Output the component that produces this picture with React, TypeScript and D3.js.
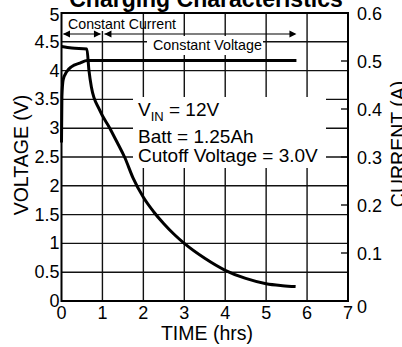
import React from "react";
import * as d3 from "d3";

const W = 402;
const H = 347;

// Data
const timeTicks = [0, 1, 2, 3, 4, 5, 6, 7];
const voltTicks = [0, 0.5, 1, 1.5, 2, 2.5, 3, 3.5, 4, 4.5, 5];
const currTicks = [0, 0.1, 0.2, 0.3, 0.4, 0.5, 0.6];

const voltageTime = [0, 0.01, 0.04, 0.126, 0.25, 0.45, 0.63, 5.74];
const voltageVals = [2.75, 3.55, 3.84, 3.98, 4.07, 4.13, 4.175, 4.175];

const currentTime = [0, 0.25, 0.62, 0.67, 0.73, 0.93, 1.18, 1.38, 1.54, 1.75, 2.0, 2.25, 2.5, 2.75, 3.0, 3.5, 4.0, 4.5, 5.0, 5.4, 5.72];
const currentVals = [0.530, 0.527, 0.525, 0.481, 0.446, 0.398, 0.36, 0.327, 0.30, 0.256, 0.216, 0.186, 0.161, 0.139, 0.120, 0.089, 0.064, 0.047, 0.036, 0.032, 0.030];

const title = "Charging Characteristics";
const xTitle = "TIME (hrs)";
const yLeftTitle = "VOLTAGE (V)";
const yRightTitle = "CURRENT (A)";
const noteLines = ["Batt = 1.25Ah", "Cutoff Voltage = 3.0V"];

const FONT = "Arial, 'Liberation Sans', Helvetica, sans-serif";

export default function App() {
  const x = d3.scaleLinear().domain([0, 7]).range([61.5, 348]);
  const yV = d3.scaleLinear().domain([0, 5]).range([301, 13]);
  const yA = d3.scaleLinear().domain([0, 0.6]).range([301, 13]);

  const vData = voltageTime.map((t, i) => [t, voltageVals[i]] as [number, number]);
  const aData = currentTime.map((t, i) => [t, currentVals[i]] as [number, number]);

  const vLine = d3
    .line<[number, number]>()
    .x((d) => x(d[0]))
    .y((d) => yV(d[1]))
    .curve(d3.curveMonotoneX);
  const aLine = d3
    .line<[number, number]>()
    .x((d) => x(d[0]))
    .y((d) => yA(d[1]))
    .curve(d3.curveMonotoneX);

  const gridColor = "#111";
  const fmt = (v: number) => (v === 0 ? "0" : d3.format("~g")(v));

  const arrowY = 34;
  const head = (px: number, dir: number) =>
    `M${px},${arrowY} L${px - dir * 7},${arrowY - 3.5} L${px - dir * 7},${arrowY + 3.5} Z`;

  return (
    <svg
      width={W}
      height={H}
      style={{ position: "absolute", left: 0, top: 0, background: "#fff" }}
      fontFamily={FONT}
    >
      <rect x={0} y={0} width={W} height={H} fill="#fff" />
      {/* grid */}
      {voltTicks
        .filter((v) => v > 0 && v < 5)
        .map((v) => (
          <line key={"h" + v} x1={x(0)} x2={x(7)} y1={yV(v)} y2={yV(v)} stroke={gridColor} strokeWidth={1.4} />
        ))}
      {timeTicks
        .filter((t) => t > 0 && t < 7)
        .map((t) => (
          <line key={"v" + t} x1={x(t)} x2={x(t)} y1={yV(5)} y2={yV(0)} stroke={gridColor} strokeWidth={1.4} />
        ))}
      {/* right inward ticks */}
      {currTicks
        .filter((v) => v > 0 && v < 0.6)
        .map((v) => (
          <line key={"rt" + v} x1={x(7) - 7} x2={x(7)} y1={yA(v)} y2={yA(v)} stroke={gridColor} strokeWidth={1.4} />
        ))}
      {/* white label backgrounds */}
      <rect x={63} y={14} width={65} height={17} fill="#fff" />
      <rect x={147} y={36} width={116} height={19} fill="#fff" />
      <rect x={133} y={97} width={193} height={71} fill="#fff" />
      {/* frame */}
      <rect x={x(0)} y={yV(5)} width={x(7) - x(0)} height={yV(0) - yV(5)} fill="none" stroke="#000" strokeWidth={2} />

      {/* arrows */}
      <line x1={x(0) + 2} x2={x(1) - 2} y1={arrowY} y2={arrowY} stroke="#000" strokeWidth={1.2} />
      <path d={head(x(0) + 1.5, -1)} fill="#000" />
      <path d={head(x(1) - 1.5, 1)} fill="#000" />
      <line x1={x(1) + 2} x2={x(5.7)} y1={arrowY} y2={arrowY} stroke="#000" strokeWidth={1.2} />
      <path d={head(x(1) + 2, -1)} fill="#000" />
      <path d={head(x(5.74), 1)} fill="#000" />

      {/* curves */}
      <path d={vLine(vData) || ""} fill="none" stroke="#000" strokeWidth={3} strokeLinejoin="round" strokeLinecap="butt" />
      <path d={aLine(aData) || ""} fill="none" stroke="#000" strokeWidth={3} strokeLinejoin="round" strokeLinecap="butt" />

      {/* annotations */}
      <text x={68} y={29} fontSize={14.2} fill="#000">Constant Current</text>
      <text x={153} y={50} fontSize={14.3} fill="#000">Constant Voltage</text>
      <text x={138} y={116} fontSize={19} fill="#000">
        V<tspan fontSize={13} dy={5}>IN</tspan>
        <tspan dy={-5}> = 12V</tspan>
      </text>
      <text x={138} y={143} fontSize={19} fill="#000">{noteLines[0]}</text>
      <text x={138} y={162} fontSize={19} fill="#000">{noteLines[1]}</text>

      {/* left tick labels */}
      {voltTicks.map((v) => (
        <text key={"lt" + v} x={59.5} y={yV(v) + (v === 5 ? 8 : 6)} fontSize={18} textAnchor="end" fill="#000">
          {fmt(v)}
        </text>
      ))}
      {/* right tick labels */}
      {currTicks.map((v) => (
        <text key={"rl" + v} x={357} y={yA(v) + (v === 0 ? 12 : 6.5)} fontSize={18} textAnchor="start" fill="#000">
          {fmt(v)}
        </text>
      ))}
      {/* bottom tick labels */}
      {timeTicks.map((t) => (
        <text key={"bt" + t} x={x(t)} y={319} fontSize={18} textAnchor="middle" fill="#000">
          {t}
        </text>
      ))}

      {/* titles */}
      <text x={206} y={7} fontSize={23} fontWeight="bold" textAnchor="middle" fill="#000">
        {title}
      </text>
      <text x={207} y={340} fontSize={19.5} textAnchor="middle" fill="#000">
        {xTitle}
      </text>
      <text transform="translate(28,155) rotate(-90)" fontSize={19.5} textAnchor="middle" fill="#000">
        {yLeftTitle}
      </text>
      <text transform="translate(405,144) rotate(-90)" fontSize={19.5} textAnchor="middle" fill="#000">
        {yRightTitle}
      </text>
    </svg>
  );
}
